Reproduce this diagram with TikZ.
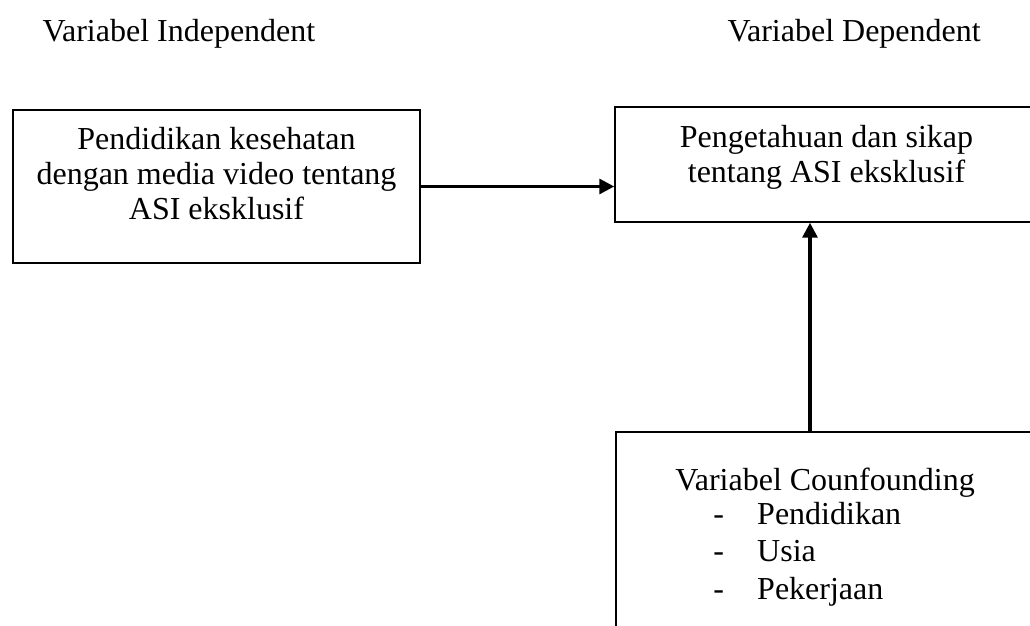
\documentclass[tikz,border=0pt]{standalone}
\usepackage{fontspec}
\setmainfont{Liberation Serif}
\usetikzlibrary{arrows.meta}
\tikzset{
  varbox/.style={draw, line width=0.6pt, inner sep=0pt, font=\fontsize{12}{13.125}\selectfont},
  headlabel/.style={inner sep=0pt, anchor=base west, font=\fontsize{12}{13.125}\selectfont},
  linkarrow/.style={line width=1.2pt, -{Triangle[length=5.6pt,width=5.6pt]}}
}
\begin{document}
\begin{tikzpicture}[x=0.375pt,y=-0.375pt]
        \useasboundingbox (0,0) rectangle (1030,626);
        \clip (0,0) rectangle (1030,626);
        % column headings
        \node[headlabel] (ivlab) at (42,42) {Variabel Independent};
        \node[headlabel] (dvlab) at (727,42) {Variabel Dependent};
        % variable boxes
        \node[varbox, minimum width=152.6pt, minimum height=57.4pt] (iv) at (216.5,186.5)
          {\raisebox{3.2pt}[\height][\depth]{\begin{tabular}{@{}c@{}}Pendidikan kesehatan\\ dengan media video tentang\\ ASI eksklusif\end{tabular}}};
        \node[varbox, minimum width=158.6pt, minimum height=43.1pt] (dv) at (826.5,164.5)
          {\raisebox{2.6pt}[\height][\depth]{\begin{tabular}{@{}c@{}}Pengetahuan dan sikap\\ tentang ASI eksklusif\end{tabular}}};
        \node[varbox, minimum width=156.8pt, minimum height=79.5pt] (cf) at (825,538)
          {\begin{tabular}{@{}l@{}}Variabel Counfounding\\[-0.4pt]
            \hspace{14.25pt}\makebox[16.5pt][l]{-}Pendidikan\\[1.1pt]
            \hspace{14.25pt}\makebox[16.5pt][l]{-}Usia\\[1.1pt]
            \hspace{14.25pt}\makebox[16.5pt][l]{-}Pekerjaan\end{tabular}};
        % arrows
        \coordinate (cfx) at (810,0);
        \draw[linkarrow] (iv.east) -- (iv.east -| dv.west);
        \draw[linkarrow] (cf.north -| cfx) -- (dv.south -| cfx);
      \end{tikzpicture}
\end{document}
